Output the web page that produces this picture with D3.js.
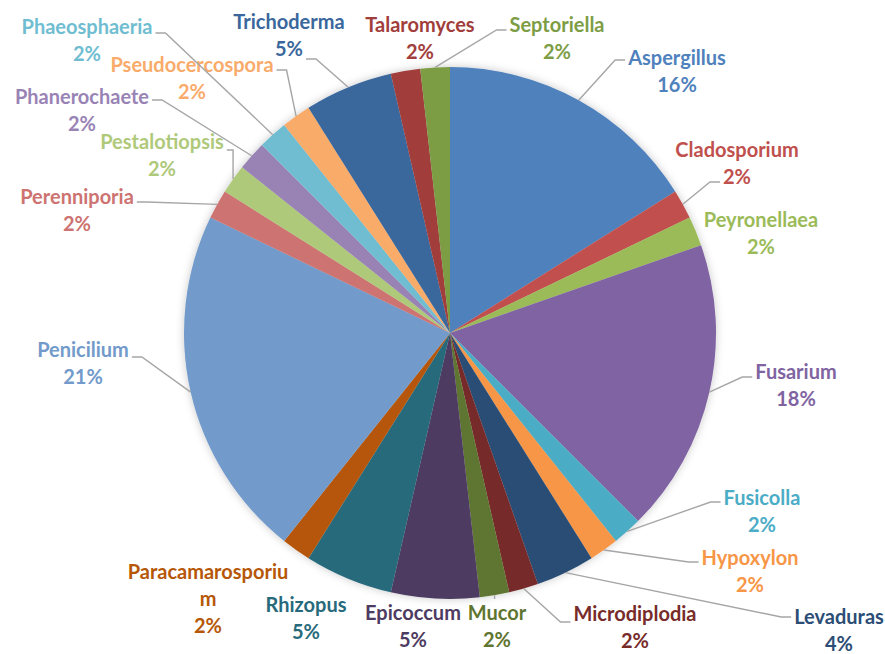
<!DOCTYPE html>
<html>
<head>
<meta charset="utf-8">
<script src="https://cdn.jsdelivr.net/npm/d3@7"></script>
<style>
  body { margin: 0; background: #fff; }
  text { font-family: Lato, "Open Sans", sans-serif; font-weight: bold; }
</style>
</head>
<body>
<div id="chart"></div>
<script>
const width = 885, height = 654;

// slices, clockwise from 12 o'clock
const genera = ['Aspergillus', 'Cladosporium', 'Peyronellaea', 'Fusarium', 'Fusicolla', 'Hypoxylon',
	'Levaduras', 'Microdiplodia', 'Mucor', 'Epicoccum', 'Rhizopus', 'Paracamarosporium',
	'Penicilium', 'Perenniporia', 'Pestalotiopsis', 'Phanerochaete', 'Phaeosphaeria',
	'Pseudocercospora', 'Trichoderma', 'Talaromyces', 'Septoriella'];
const counts = [9, 1, 1, 10, 1, 1, 2, 1, 1, 3, 3, 1, 12, 1, 1, 1, 1, 1, 3, 1, 1];
const colors = ['#4F81BD', '#C0504D', '#9BBB59', '#8064A2', '#4BACC6', '#F79646',
	'#2C4D75', '#772C2A', '#5F7530', '#4D3B62', '#276A7C', '#B65708',
	'#729ACA', '#CD7371', '#AFC97A', '#9983B5', '#6FBDD1', '#F9AB6B',
	'#3A679C', '#A13E3B', '#7D9D45'];
// how a long name wraps in the label box
const nameLines = { Paracamarosporium: ['Paracamarosporiu', 'm'] };

// label box placement: [centre x, first line y, leader side, leader line index, leader dy]
const labelLayout = [
	[677, 58, 'l', 0, 2], [737, 150, 'l', 1, 5], [761, 220, null], [796, 372, 'l', 0, 5],
	[762, 498, 'l', 0, 4], [750, 558, 'l', 0, 4], [839, 617, 'l', 0, 0], [635, 614, 'l', 0, 8],
	[497, 613, 't', 0, 0], [413, 613, null], [306, 605, null], [208, 572, null],
	[83, 350, 'r', 0, 7], [77, 197, 'r', 0, 5], [162, 142, 'r', 0, 8], [82, 97, 'r', 0, 3],
	[87, 27, 'r', 0, 6], [192, 65, 'r', 0, 5], [289, 22, 'r', 1, 10], [420, 25, null], [557, 25, 'l', 0, 5]
];

const cx = 450, cy = 333, radius = 266, lineGap = 27;

const data = genera.map((g, i) => ({ name: g, value: counts[i], color: colors[i], layout: labelLayout[i] }));
const total = d3.sum(counts);
const pct = d3.format('.0%');

const svg = d3.select('#chart').append('svg')
	.attr('width', width)
	.attr('height', height);

const defs = svg.append('defs');
const shadow = defs.append('filter').attr('id', 'halo')
	.attr('x', '-10%').attr('y', '-10%').attr('width', '120%').attr('height', '120%');
shadow.append('feDropShadow')
	.attr('dx', 0).attr('dy', 0).attr('stdDeviation', 4)
	.attr('flood-color', '#000').attr('flood-opacity', 0.22);

const pie = d3.pie().sort(null).value(d => d.value);
const arc = d3.arc().innerRadius(0).outerRadius(radius);
const arcs = pie(data);

const g = svg.append('g').attr('transform', 'translate(' + cx + ',' + cy + ')');

g.append('g').attr('filter', 'url(#halo)')
	.selectAll('path')
	.data(arcs)
	.enter()
	.append('path')
	.attr('d', arc)
	.attr('fill', d => d.data.color);

// labels
const labels = svg.append('g');
const leaders = svg.append('g')
	.attr('fill', 'none')
	.attr('stroke', '#a6a6a6')
	.attr('stroke-width', 1.4);

arcs.forEach(a => {
	const d = a.data;
	const [lx, ly, side, lineIdx, ldy] = d.layout;
	const lines = (nameLines[d.name] || [d.name]).concat([pct(d.value / total)]);

	const t = labels.append('text')
		.attr('text-anchor', 'middle')
		.attr('font-size', 20)
		.attr('fill', d.color);
	const spans = lines.map((s, k) => t.append('tspan')
		.attr('x', lx)
		.attr('y', ly + k * lineGap)
		.attr('dy', '0.35em')
		.text(s));

	if (!side) return;

	// point on the rim at the middle of the slice
	const mid = (a.startAngle + a.endAngle) / 2;
	const rim = [cx + radius * Math.sin(mid), cy - radius * Math.cos(mid)];

	let pts;
	if (side === 't') {
		pts = [[rim[0], ly - 14], rim];
	} else {
		const w = spans[lineIdx].node().getComputedTextLength();
		const y = ly + lineIdx * lineGap + ldy;
		const sx = side === 'l' ? lx - w / 2 - 3 : lx + w / 2 + 3;
		const dir = side === 'l' ? -1 : 1;
		const ex = sx + dir * Math.min(10, Math.abs(rim[0] - sx));
		pts = [[sx, y], [ex, y], rim];
	}
	leaders.append('path').attr('d', d3.line()(pts));
});
</script>
</body>
</html>
